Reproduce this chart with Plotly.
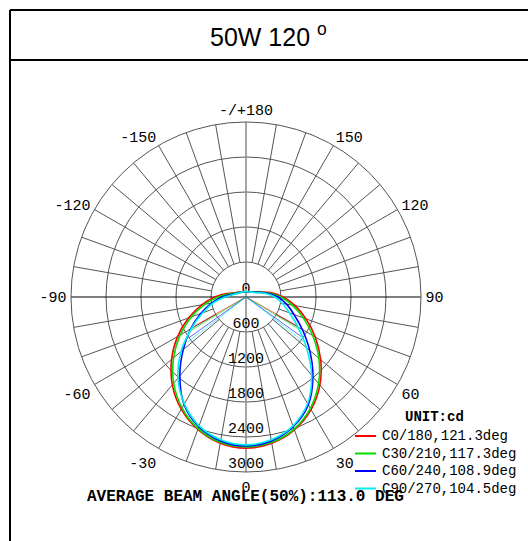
import plotly.graph_objects as go

# ---------------- data ----------------
gamma = list(range(-180, 190, 10))  # gamma angle (deg), 0 = straight down

c0_180 = [90, 90, 95, 105, 110, 130, 165, 215, 335, 530, 770, 1045, 1355, 1665, 1965, 2220, 2415, 2545,
          2590,
          2545, 2425, 2230, 1970, 1670, 1370, 1095, 855, 635, 430, 255, 180, 135, 110, 105, 95, 90, 90]
c30_210 = [90, 90, 95, 105, 110, 130, 155, 195, 300, 480, 720, 995, 1305, 1620, 1930, 2195, 2400, 2530,
           2570,
           2530, 2410, 2205, 1935, 1630, 1320, 1045, 805, 600, 395, 240, 170, 130, 110, 105, 95, 90, 90]
c60_240 = [90, 90, 95, 105, 110, 120, 145, 180, 255, 410, 600, 825, 1095, 1405, 1765, 2125, 2365, 2505,
           2555,
           2505, 2365, 2135, 1785, 1425, 1115, 875, 705, 550, 375, 230, 165, 130, 110, 105, 95, 90, 90]
c90_270 = [90, 90, 95, 105, 110, 120, 135, 170, 230, 360, 565, 790, 1080, 1455, 1815, 2115, 2350, 2485,
           2535,
           2485, 2350, 2110, 1750, 1355, 1030, 790, 635, 495, 345, 215, 155, 130, 110, 105, 95, 90, 90]

series_values = [c0_180, c30_210, c60_240, c90_270]
series_names = ["C0/180,121.3deg", "C30/210,117.3deg", "C60/240,108.9deg", "C90/270,104.5deg"]
series_colors = ["#ff0000", "#00dd00", "#0000ff", "#00f0f0"]

beam_angles = [121.3, 117.3, 108.9, 104.5]
beam_line_r = [1000, 1100, 1200, 1270]

ring_values = [600, 1200, 1800, 2400, 3000]
radial_label_r = [0, 600, 1200, 1800, 2400, 3000]
radial_label_text = ["0", "600", "1200", "1800", "2400", "3000"]

angle_tickvals = [0, 30, 60, 90, 120, 150, 180, 210, 240, 270, 300, 330]
angle_ticktext = ["0", "30", "60", "90", "120", "150", "-/+180", "-150", "-120", "-90", "-60", "-30"]

title_text = "50W 120 <sup>o</sup>"
unit_text = "<b>UNIT:cd</b>"
average_text = "<b>AVERAGE BEAM ANGLE(50%):113.0 DEG</b>"

R_MAX = 3000
R_INNER = 600

# ---------------- figure ----------------
W, H = 528, 541
fig = go.Figure()

mono = "Liberation Mono, Courier New, monospace"

# spokes every 10 deg from inner ring to outer ring
sr, st = [], []
for a in range(0, 360, 10):
    if a % 90 == 0:
        continue
    sr += [R_INNER, R_MAX, None]
    st += [a, a, None]
fig.add_trace(go.Scatterpolar(r=sr, theta=st, mode="lines",
                              line=dict(color="#555555", width=1),
                              showlegend=False, hoverinfo="skip"))
# vertical full line (gray)
fig.add_trace(go.Scatterpolar(r=[R_MAX, 0, R_MAX], theta=[180, 0, 0], mode="lines",
                              line=dict(color="#888888", width=1.5),
                              showlegend=False, hoverinfo="skip"))
# horizontal full line (black)
fig.add_trace(go.Scatterpolar(r=[R_MAX, 0, R_MAX], theta=[90, 0, 270], mode="lines",
                              line=dict(color="#000000", width=1),
                              showlegend=False, hoverinfo="skip"))

# beam angle marker lines
for ang, lr, col in zip(beam_angles, beam_line_r, series_colors):
    h = ang / 2
    fig.add_trace(go.Scatterpolar(r=[lr, 0, lr], theta=[-h, 0, h], mode="lines",
                                  line=dict(color=col, width=1), opacity=0.6,
                                  showlegend=False, hoverinfo="skip"))

# radial value labels
fig.add_trace(go.Scatterpolar(r=radial_label_r, theta=[0] * len(radial_label_r),
                              mode="text", text=radial_label_text,
                              textposition="top center",
                              textfont=dict(family=mono, size=15, color="#000000"),
                              showlegend=False, hoverinfo="skip"))

# intensity curves
for vals, name, col in zip(series_values, series_names, series_colors):
    fig.add_trace(go.Scatterpolar(r=vals, theta=gamma, mode="lines", name=name,
                                  line=dict(color=col, width=1.6, shape="spline", smoothing=1.0),
                                  showlegend=False))

cx, cy, rad = 246, 297, 175
fig.update_layout(
    width=W, height=H,
    margin=dict(l=0, r=0, t=0, b=0),
    paper_bgcolor="white",
    plot_bgcolor="white",
    showlegend=False,
    polar=dict(
        domain=dict(x=[(cx - rad) / W, (cx + rad) / W],
                    y=[(H - cy - rad) / H, (H - cy + rad) / H]),
        bgcolor="white",
        radialaxis=dict(range=[0, R_MAX], tickvals=ring_values, showticklabels=False,
                        ticks="", showline=False, gridcolor="#555555", gridwidth=1),
        angularaxis=dict(rotation=270, direction="counterclockwise",
                         tickvals=angle_tickvals, ticktext=angle_ticktext,
                         showgrid=False, showline=True, linecolor="#555555", linewidth=1,
                         ticks="outside", ticklen=1, tickcolor="rgba(0,0,0,0)",
                         tickfont=dict(family=mono, size=15, color="#000000")),
    ),
)

# manual legend (unit title + line samples + labels)
fig.add_annotation(text=unit_text, xref="paper", yref="paper", x=434 / W, y=1 - 417 / H,
                   showarrow=False, xanchor="center", yanchor="middle",
                   font=dict(family=mono, size=14, color="black"))
legend_rows_y = [436, 453.5, 471, 488.5]
for name, col, ly in zip(series_names, series_colors, legend_rows_y):
    fig.add_shape(type="line", xref="paper", yref="paper", x0=355 / W, x1=376 / W,
                  y0=1 - ly / H, y1=1 - ly / H, line=dict(color=col, width=2))
    fig.add_annotation(text=name, xref="paper", yref="paper", x=380 / W, y=1 - ly / H,
                       showarrow=False, xanchor="left", yanchor="middle",
                       font=dict(family=mono, size=14, color="black"))

# frame lines
line_k = dict(color="black", width=2)
fig.add_shape(type="line", xref="paper", yref="paper", x0=10 / W, x1=1, y0=1 - 10 / H, y1=1 - 10 / H, line=line_k)
fig.add_shape(type="line", xref="paper", yref="paper", x0=10 / W, x1=1, y0=1 - 60 / H, y1=1 - 60 / H, line=line_k)
fig.add_shape(type="line", xref="paper", yref="paper", x0=10 / W, x1=10 / W, y0=0, y1=1 - 10 / H, line=line_k)

fig.add_annotation(text=title_text, xref="paper", yref="paper", x=268 / W, y=1 - 35 / H,
                   showarrow=False, xanchor="center", yanchor="middle",
                   font=dict(family="Liberation Sans, Arial, sans-serif", size=25, color="black"))
fig.add_annotation(text=average_text, xref="paper", yref="paper", x=245 / W, y=1 - 497 / H,
                   showarrow=False, xanchor="center", yanchor="middle",
                   font=dict(family=mono, size=16, color="black"))

fig.write_html("out.html", config={"displayModeBar": False},
               post_script="document.body.style.margin='0px';document.body.style.overflow='hidden';")
